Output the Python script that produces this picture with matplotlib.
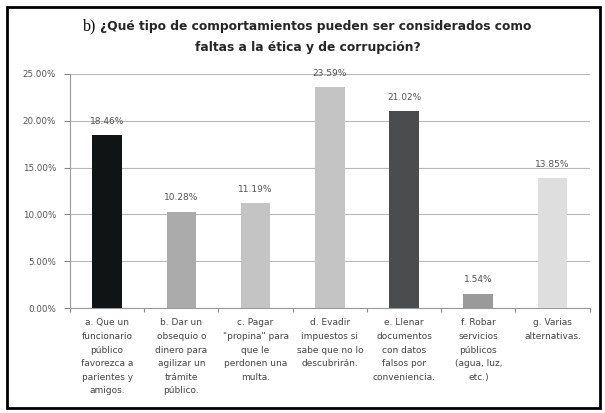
import matplotlib.pyplot as plt
from matplotlib.patches import Rectangle
from matplotlib.ticker import FuncFormatter

# Datos
categorias = [
    "a. Que un\nfuncionario\npúblico\nfavorezca a\nparientes y\namigos.",
    "b. Dar un\nobsequio o\ndinero para\nagilizar un\ntrámite\npúblico.",
    "c. Pagar\n\"propina\" para\nque le\nperdonen una\nmulta.",
    "d. Evadir\nimpuestos si\nsabe que no lo\ndescubrirán.",
    "e. Llenar\ndocumentos\ncon datos\nfalsos por\nconveniencia.",
    "f. Robar\nservicios\npúblicos\n(agua, luz,\netc.)",
    "g. Varias\nalternativas.",
]
porcentajes = [18.46, 10.28, 11.19, 23.59, 21.02, 1.54, 13.85]
colores = ["#111414", "#ababab", "#c4c4c4", "#c4c4c4", "#4b4c4e", "#9a9a9a", "#dedede"]
yticks = [0, 5, 10, 15, 20, 25]

fig = plt.figure(figsize=(6.05, 4.13), dpi=100)
ax = fig.add_axes([0.1157, 0.254, 0.859, 0.567])

x = list(range(len(categorias)))
ax.bar(x, porcentajes, width=0.4, color=colores, zorder=3)

for xi, v in zip(x, porcentajes):
    ax.annotate(f"{v:.2f}%", (xi, v), xytext=(0, 10), textcoords="offset points",
                ha="center", va="center", fontsize=6.5, color="#555555", zorder=4)

ax.set_xlim(-0.5, len(categorias) - 0.5)
ax.set_ylim(0, 25)
ax.set_yticks(yticks)
ax.yaxis.set_major_formatter(FuncFormatter(lambda v, p: f"{v:.2f}%"))
ax.grid(axis="y", color="#b8b8b8", linewidth=0.8, zorder=0)

# ticks de categoria en los limites
ax.set_xticks([i + 0.5 for i in x[:-1]] + [-0.5, len(x) - 0.5])
ax.set_xticklabels([])
ax.tick_params(axis="x", direction="out", length=3, color="#888888")
ax.tick_params(axis="y", direction="out", length=4, color="#888888",
               labelsize=6.3, labelcolor="#555555", pad=6)
for xi, lab in zip(x, categorias):
    ax.text(xi, -1.1, lab, ha="center", va="top", fontsize=6.5,
            color="#444444", linespacing=1.65)

for s in ["top", "right"]:
    ax.spines[s].set_visible(False)
ax.spines["left"].set_color("#999999")
ax.spines["bottom"].set_color("#999999")

# Titulo
fig.text(0.160, 0.935, "b)", fontsize=11.5, family="Liberation Serif", ha="right", va="center")
fig.text(0.165, 0.937, "¿Qué tipo de comportamientos pueden ser considerados como",
         fontsize=8.8, fontweight="bold", color="#262626", ha="left", va="center")
fig.text(0.508, 0.886, "faltas a la ética y de corrupción?",
         fontsize=8.8, fontweight="bold", color="#262626", ha="center", va="center")

# Marco
fig.patches.append(Rectangle((0.012, 0.012), 0.979, 0.97, transform=fig.transFigure,
                             fill=False, edgecolor="black", linewidth=2))

fig.savefig("out.png", dpi=100)
